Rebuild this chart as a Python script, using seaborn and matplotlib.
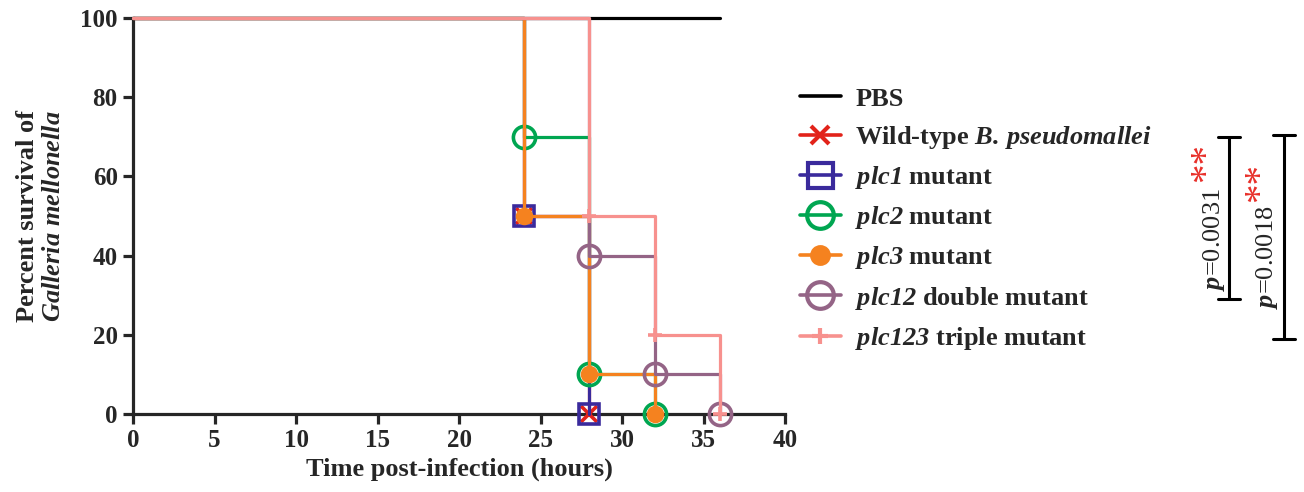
import matplotlib
matplotlib.use("Agg")
import matplotlib.pyplot as plt
import seaborn as sns
from matplotlib.lines import Line2D
from matplotlib.font_manager import FontProperties

# ---------------- data ----------------
time_pbs = [0, 36]
surv_pbs = [100, 100]
time_wt = [0, 24, 28]
surv_wt = [100, 50, 0]
time_plc1 = [0, 24, 28]
surv_plc1 = [100, 50, 0]
time_plc2 = [0, 24, 28, 32]
surv_plc2 = [100, 70, 10, 0]
time_plc3 = [0, 24, 28, 32]
surv_plc3 = [100, 50, 10, 0]
time_plc12 = [0, 28, 32, 36]
surv_plc12 = [100, 40, 10, 0]
time_plc123 = [0, 28, 32, 36]
surv_plc123 = [100, 50, 20, 0]

labels = [
    "PBS",
    r"Wild-type $\mathrm{B.\,pseudomallei}$",
    r"$\mathrm{plc1}$ mutant",
    r"$\mathrm{plc2}$ mutant",
    r"$\mathrm{plc3}$ mutant",
    r"$\mathrm{plc12}$ double mutant",
    r"$\mathrm{plc123}$ triple mutant",
]
x_ticks = [0, 5, 10, 15, 20, 25, 30, 35, 40]
y_ticks = [0, 20, 40, 60, 80, 100]
p_labels = ["=0.0031", "=0.0018"]

# ---------------- style ----------------
sns.set_style("ticks")
plt.rcParams["font.family"] = ["Liberation Serif", "DejaVu Serif"]
plt.rcParams["font.weight"] = "bold"
plt.rcParams["mathtext.fontset"] = "custom"
plt.rcParams["mathtext.rm"] = "Liberation Serif:italic:bold"
plt.rcParams["mathtext.it"] = "Liberation Serif:italic"
plt.rcParams["mathtext.bf"] = "Liberation Serif:bold"

fig = plt.figure(figsize=(13.04, 4.92), dpi=100)
W, H = 1304, 492
ax = fig.add_axes([133 / W, 1 - 414 / H, (785 - 133) / W, (414 - 18) / H])

series = [
    (time_pbs, surv_pbs, "black", None, 0, "black"),
    (time_wt, surv_wt, "#E2231A", "x", 11, "#E2231A"),
    (time_plc1, surv_plc1, "#3A2A9C", "s", 15, "none"),
    (time_plc2, surv_plc2, "#00A651", "o", 16, "none"),
    (time_plc3, surv_plc3, "#F5821F", "o", 10, "#F5821F"),
    (time_plc12, surv_plc12, "#946486", "o", 16, "none"),
    (time_plc123, surv_plc123, "#F7918E", "+", 10, "#F7918E"),
]

for i, (t, s, c, m, ms, fc) in enumerate(series):
    kw = {}
    if m is not None:
        kw = dict(marker=m, markersize=ms, markevery=list(range(1, len(t))),
                  markerfacecolor=fc, markeredgecolor=c, markeredgewidth=2.6)
    sns.lineplot(x=t, y=s, ax=ax, color=c, lw=2.3, drawstyle="steps-post",
                 estimator=None, errorbar=None, sort=False, legend=False,
                 clip_on=False, zorder=3 + i, **kw)

ax.set_xlim(0, 40)
ax.set_ylim(0, 100)
ax.set_xticks(x_ticks)
ax.set_yticks(y_ticks)
for sp in ["top", "right"]:
    ax.spines[sp].set_visible(False)
for sp in ["left", "bottom"]:
    ax.spines[sp].set_linewidth(2.3)
ax.tick_params(axis="both", width=2.3, length=7, labelsize=18, direction="out", pad=4)
for lab in ax.get_xticklabels() + ax.get_yticklabels():
    lab.set_fontweight("bold")

ax.set_xlabel("Time post-infection (hours)", fontsize=19, fontweight="bold", labelpad=4)
ax.set_ylabel("Percent survival of\n" + r"$\mathrm{Galleria\ mellonella}$",
              fontsize=19, fontweight="bold", ha="center", va="center", linespacing=1.2)
ax.yaxis.set_label_coords(-0.142, 0.5)

# legend
handles = []
for t, s, c, m, ms, fc in series:
    if m is None:
        handles.append(Line2D([], [], color=c, lw=2.6))
    else:
        handles.append(Line2D([], [], color=c, lw=2.6, marker=m, markersize=ms * 1.2,
                              markerfacecolor=fc, markeredgecolor=c, markeredgewidth=3))
leg = ax.legend(handles, labels, loc="center left",
                bbox_to_anchor=(800 / W, 1 - 219.5 / H), bbox_transform=fig.transFigure,
                frameon=False, prop=FontProperties(family="Liberation Serif", weight="bold", size=19),
                handlelength=1.55, handletextpad=0.55, labelspacing=0.5,
                borderpad=0, borderaxespad=0)

# significance brackets
def bracket(x, y0, y1, cap=11):
    fig.add_artist(Line2D([x / W, x / W], [1 - y0 / H, 1 - y1 / H], color="black", lw=2.2,
                          transform=fig.transFigure))
    for y in (y0, y1):
        fig.add_artist(Line2D([(x - cap) / W, (x + cap) / W], [1 - y / H, 1 - y / H],
                              color="black", lw=2.2, transform=fig.transFigure))

bracket(1229, 137, 299)
bracket(1284, 135, 339)

fig.text(1214 / W, 1 - 240 / H, r"$\mathit{p}$" + p_labels[0], rotation=90, ha="center", va="center",
         fontsize=19, fontweight="normal", family="Liberation Serif")
fig.text(1207 / W, 1 - 162 / H, "**", rotation=90, ha="center", va="center",
         fontsize=28, color="#E8302A", fontweight="normal")
fig.text(1267 / W, 1 - 257 / H, r"$\mathit{p}$" + p_labels[1], rotation=90, ha="center", va="center",
         fontsize=19, fontweight="normal", family="Liberation Serif")
fig.text(1261 / W, 1 - 182 / H, "**", rotation=90, ha="center", va="center",
         fontsize=28, color="#E8302A", fontweight="normal")

fig.savefig("out.png", dpi=100)
